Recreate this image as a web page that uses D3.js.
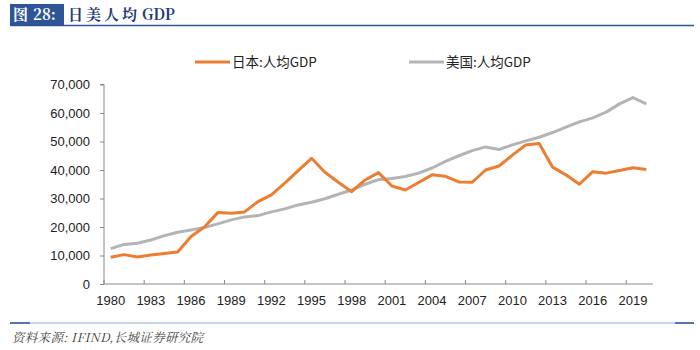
<!DOCTYPE html>
<html>
<head>
<meta charset="utf-8">
<script src="https://cdn.jsdelivr.net/npm/d3@7"></script>
<style>
  body { margin: 0; background: #fff; }
  svg { display: block; }
</style>
</head>
<body>
<div id="main"></div>
<script>
// years on the category axis
let years = d3.range(1980, 2021);
let yTicks = [0, 10000, 20000, 30000, 40000, 50000, 60000, 70000];

// 日本 人均GDP (USD)
let japan = [9400, 10300, 9500, 10150, 10700, 11250, 16700, 20000, 25050, 24800,
    25300, 28900, 31300, 35400, 39800, 44100, 39200, 35700, 32400, 36500,
    39100, 34400, 33000, 35600, 38300, 37800, 35800, 35700, 40000, 41400,
    45200, 48800, 49300, 41000, 38300, 35000, 39400, 38900, 39800, 40800, 40200];

// 美国 人均GDP (USD)
let usa = [12400, 13900, 14300, 15450, 16950, 18150, 18950, 19800, 21100, 22500,
    23550, 24000, 25300, 26350, 27750, 28700, 29900, 31500, 33000, 35000,
    36600, 37000, 37700, 38900, 40700, 43000, 45000, 46800, 48100, 47200,
    48800, 50200, 51500, 53150, 55050, 56900, 58300, 60300, 63200, 65400, 63200];

let series = [
    {name: "日本:人均GDP", values: japan, color: "#ED7D31"},
    {name: "美国:人均GDP", values: usa, color: "#B4B4B4"}
];

const W = 700, H = 350;
const plot = {left: 104, right: 653, top: 84.5, bottom: 284};

let svg = d3.select("#main").append("svg")
    .attr("width", W)
    .attr("height", H);

// ---- header ----
svg.append("rect")
    .attr("x", 10).attr("y", 4)
    .attr("width", 54).attr("height", 21)
    .attr("fill", "#2F5597");
let badge = svg.append("text")
    .attr("x", 13).attr("y", 20)
    .attr("font-family", "'Noto Serif CJK SC', 'Noto Sans CJK SC', serif")
    .attr("font-weight", "bold")
    .attr("font-size", 15)
    .attr("fill", "#fff");
badge.append("tspan").text("图");
badge.append("tspan").attr("dx", 5).text("28:");

let title = svg.append("text")
    .attr("x", 68).attr("y", 20)
    .attr("font-family", "'Noto Serif CJK SC', 'Noto Sans CJK SC', serif")
    .attr("font-weight", "bold")
    .attr("font-size", 15)
    .attr("fill", "#1F3C78");
title.append("tspan").attr("letter-spacing", 3).text("日美人均");
title.append("tspan").attr("dx", 2).text("GDP");

svg.append("line")
    .attr("x1", 10).attr("x2", 694)
    .attr("y1", 25.5).attr("y2", 25.5)
    .attr("stroke", "#2F5597")
    .attr("stroke-width", 1.5);

// ---- footer ----
svg.append("line")
    .attr("x1", 10).attr("x2", 694)
    .attr("y1", 323).attr("y2", 323)
    .attr("stroke", "#8FAADC")
    .attr("stroke-width", 1);
svg.append("line")
    .attr("x1", 10).attr("x2", 30)
    .attr("y1", 323).attr("y2", 323)
    .attr("stroke", "#2F5597")
    .attr("stroke-width", 1.5);
svg.append("line")
    .attr("x1", 675).attr("x2", 694)
    .attr("y1", 323).attr("y2", 323)
    .attr("stroke", "#2F5597")
    .attr("stroke-width", 1.5);
svg.append("text")
    .attr("x", 12).attr("y", 342)
    .attr("font-family", "'Noto Serif CJK SC', 'Liberation Serif', serif")
    .attr("font-style", "italic")
    .attr("font-size", 12.5)
    .attr("letter-spacing", 0.3)
    .attr("fill", "#444")
    .text("资料来源: IFIND,长城证券研究院");

// ---- scales ----
let x = d3.scaleBand()
    .domain(years)
    .range([plot.left, plot.right])
    .paddingInner(0).paddingOuter(0);

let y = d3.scaleLinear()
    .domain([0, 70000])
    .range([plot.bottom, plot.top]);

const fmt = d3.format(",");
const axisFont = "Arial, 'Liberation Sans', sans-serif";

// y axis
let yAxis = svg.append("g")
    .attr("transform", `translate(${plot.left},0)`)
    .call(d3.axisLeft(y).tickValues(yTicks).tickFormat(fmt).tickSize(4).tickPadding(10));
yAxis.select(".domain").attr("stroke", "#888").attr("d", `M-4,${plot.top}H0V${plot.bottom}`);
yAxis.selectAll(".tick line").attr("stroke", "#888");
yAxis.selectAll(".tick text")
    .attr("font-family", axisFont)
    .attr("font-size", 13)
    .attr("fill", "#222");

// x axis: ticks between categories every 3 years, labels centred on the category
let xAxis = svg.append("g").attr("transform", `translate(0,${plot.bottom})`);
xAxis.append("line")
    .attr("x1", plot.left).attr("x2", plot.right)
    .attr("y1", 0).attr("y2", 0)
    .attr("stroke", "#888");
let labelYears = years.filter((d, i) => i % 3 === 0);
xAxis.selectAll(".xtick")
    .data(labelYears)
    .enter().append("line")
    .attr("class", "xtick")
    .attr("x1", d => x(d)).attr("x2", d => x(d))
    .attr("y1", 0).attr("y2", -4)
    .attr("stroke", "#888");
xAxis.selectAll(".xlabel")
    .data(labelYears)
    .enter().append("text")
    .attr("class", "xlabel")
    .attr("x", d => x(d) + x.bandwidth() / 2)
    .attr("y", 21)
    .attr("text-anchor", "middle")
    .attr("font-family", axisFont)
    .attr("font-size", 13)
    .attr("fill", "#222")
    .text(d => d);

// ---- lines ----
let line = d3.line()
    .x((d, i) => x(years[i]) + x.bandwidth() / 2)
    .y(d => y(d));

// gray first, then orange on top
[series[1], series[0]].forEach(s => {
    svg.append("path")
        .datum(s.values)
        .attr("d", line)
        .attr("fill", "none")
        .attr("stroke", s.color)
        .attr("stroke-width", 3)
        .attr("stroke-linejoin", "round");
});

// ---- legend ----
let legendX = [195, 409];
series.forEach((s, i) => {
    let g = svg.append("g").attr("transform", `translate(${legendX[i]},62)`);
    g.append("line")
        .attr("x1", 0).attr("x2", 35)
        .attr("y1", 0).attr("y2", 0)
        .attr("stroke", s.color)
        .attr("stroke-width", 3);
    g.append("text")
        .attr("x", 37).attr("y", 4.5)
        .attr("font-family", "'Noto Sans CJK SC', Arial, sans-serif")
        .attr("font-size", 13.5)
        .attr("fill", "#222")
        .text(s.name);
});
</script>
</body>
</html>
